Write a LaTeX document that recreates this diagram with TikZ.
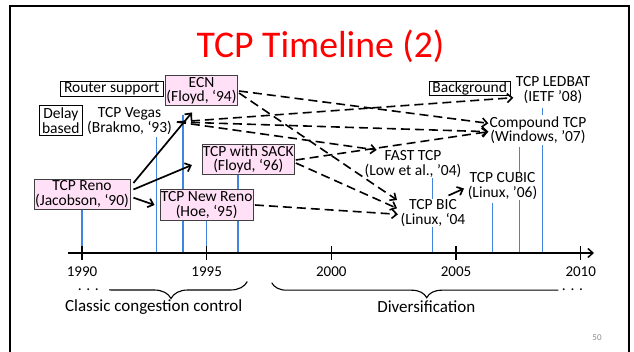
\documentclass[tikz,border=0pt]{standalone}
\usepackage{fontspec}
\setmainfont{Carlito}
\usetikzlibrary{arrows.meta,decorations.pathreplacing,backgrounds}
\definecolor{pinkfill}{RGB}{255,224,246}
\definecolor{yearblue}{RGB}{66,133,224}
\begin{document}
\begin{tikzpicture}[x=1pt,y=-1pt,
  lbl/.style={font=\fontsize{15.5}{14.3}\selectfont, align=center, inner sep=1pt},
  pinkbox/.style={lbl, draw=black!75, line width=0.9pt, fill=pinkfill},
  tagbox/.style={lbl, draw=black, line width=0.9pt, fill=white},
  plain/.style={lbl, fill=white},
  yearline/.style={yearblue, line width=1.5pt},
  barb/.style={-{Straight Barb[length=5pt,width=9pt]}},
  solidarr/.style={barb, line width=1.7pt},
  dasharr/.style={barb, line width=1.6pt, dash pattern=on 9pt off 5pt},
  yearlbl/.style={font=\fontsize{15}{15}\selectfont, inner sep=0pt},
  bracelbl/.style={font=\fontsize{17}{17}\selectfont, inner sep=0pt},
  bracestyle/.style={line width=1.1pt, decorate},
]
\useasboundingbox (0,0) rectangle (634,352);
% slide frame
\draw[line width=2pt] (10,352) -- (10,6) -- (629,6) -- (629,352);
% title
\node[font=\fontsize{37.7}{40}\selectfont, text=red, anchor=base, inner sep=0pt] (title) at (320.5,58) {TCP Timeline (2)};
\node[font=\fontsize{9}{10}\selectfont, text=black!45, inner sep=0pt] (pagenum) at (597,338) {50};

% nodes
\node[pinkbox, minimum width=96pt, minimum height=30pt] (Reno) at (82,194) {TCP Reno\\(Jacobson, ‘90)};
\node[pinkbox, minimum width=71.6pt, minimum height=30pt] (ECN) at (201.5,90.7) {ECN\\(Floyd, ‘94)};
\node[pinkbox, minimum width=92pt, minimum height=29.7pt] (SACK) at (248.3,159.2) {TCP with SACK\\(Floyd, ‘96)};
\node[pinkbox, minimum width=93.3pt, minimum height=31.4pt] (NewReno) at (206.7,205) {TCP New Reno\\(Hoe, ‘95)};
\node[tagbox, minimum width=103.3pt, minimum height=15pt, inner sep=0pt] (Router) at (111.7,89.2) {Router support};
\node[tagbox, minimum width=43.7pt, minimum height=30.3pt, inner sep=0pt] (Delay) at (60.8,120.8) {Delay\\based};
\node[tagbox, minimum width=80.7pt, minimum height=14pt, inner sep=0pt] (Background) at (469.7,88) {Background};
\node[plain] (Vegas) at (129.5,121) {TCP Vegas\\(Brakmo, ‘93)};
\node[plain] (FAST) at (413,164) {FAST TCP\\(Low et al., ’04)};
\node[plain] (BIC) at (433,213) {TCP BIC\\(Linux, ‘04};
\node[plain] (CUBIC) at (502.5,186) {TCP CUBIC\\(Linux, ’06)};
\node[plain] (Compound) at (538,130) {Compound TCP\\(Windows, ’07)};
\node[plain] (LEDBAT) at (553,90) {TCP LEDBAT\\(IETF ’08)};

% axis
\coordinate (axL) at (68,253);
\coordinate (axR) at (594,253);
\begin{scope}[on background layer]
  \fill[white] (0,0) rectangle (634,352);
  \coordinate (t93) at (156.5,137);
  \coordinate (t94) at (183,115);
  \coordinate (t96) at (238,174);
  \coordinate (t04) at (432.7,176);
  \coordinate (t06) at (492.7,203);
  \coordinate (t07) at (519.3,147);
  \coordinate (t08) at (542.7,107.7);
  \draw[yearline] (Reno.south) -- (Reno.south |- axL);
  \draw[yearline] (NewReno.south) -- (NewReno.south |- axL);
  \foreach \c in {t93,t94,t96,t04,t06,t07,t08}
    \draw[yearline] (\c) -- (\c |- axL);
\end{scope}
\draw[line width=1.5pt, barb] (axL) -- (axR);
\foreach \x/\yr in {82/1990, 206.7/1995, 331.3/2000, 456/2005, 580.7/2010} {
  \draw[line width=1.4pt] (\x,246) -- (\x,260);
  \node[yearlbl] (yr\yr) at (\x,272) {\yr};
}

% braces
\begin{scope}
  \clip (109,270) rectangle (262,302);
  \draw[bracestyle, decoration={brace, amplitude=17pt}] (247.3,281.5) -- (94.7,281.5);
\end{scope}
\begin{scope}
  \clip (262,270) rectangle (558.3,302);
  \draw[bracestyle, decoration={brace, amplitude=15pt}] (581.7,282.7) -- (271.7,282.7);
\end{scope}
\node[font=\fontsize{15.5}{15}\selectfont, anchor=base, inner sep=0pt] (dotsL) at (88.3,291) {. . .};
\node[font=\fontsize{15.5}{15}\selectfont, anchor=base, inner sep=0pt] (dotsR) at (572.5,290.5) {. . .};
\node[bracelbl] (classic) at (153.7,307) {Classic congestion control};
\node[bracelbl] (divers) at (426.3,307) {Diversification};

% solid arrows
\draw[solidarr] ([shift={(3,-11)}]Reno.east) -- ([shift={(-9.5,6.3)}]ECN.south);
\draw[solidarr] ([shift={(3,-4.5)}]Reno.east) -- ([shift={(-9.6,5.8)}]SACK.west);
\draw[solidarr] ([shift={(3,3.7)}]Reno.east) -- ([shift={(-5,0)}]NewReno.west);
\draw[solidarr] ([shift={(15.5,-17.5)}]BIC.center) -- ([shift={(-38.5,2.5)}]CUBIC.center);

% dashed arrows
\draw[dasharr] ([shift={(47.5,1)}]Vegas.center) -- ([shift={(-39.7,7.7)}]LEDBAT.center);
\draw[dasharr] ([shift={(47.5,1)}]Vegas.center) -- ([shift={(-49.7,1.7)}]Compound.center);
\draw[dasharr] ([shift={(47.5,1)}]Vegas.center) -- ([shift={(-36.3,-14)}]FAST.center);
\draw[dasharr] ([shift={(1,0.3)}]ECN.east) -- ([shift={(-49.7,-6.7)}]Compound.center);
\draw[dasharr] ([shift={(1,2.3)}]ECN.east) -- ([shift={(-36,-13)}]BIC.center);
\draw[dasharr] ([shift={(0.7,0.8)}]SACK.east) -- ([shift={(-49.7,1.7)}]Compound.center);
\draw[dasharr] ([shift={(0.7,3.8)}]SACK.east) -- ([shift={(-36,-4.7)}]BIC.center);
\draw[dasharr] ([shift={(1,0)}]NewReno.east) -- ([shift={(-35,1.3)}]BIC.center);
\end{tikzpicture}
\end{document}
